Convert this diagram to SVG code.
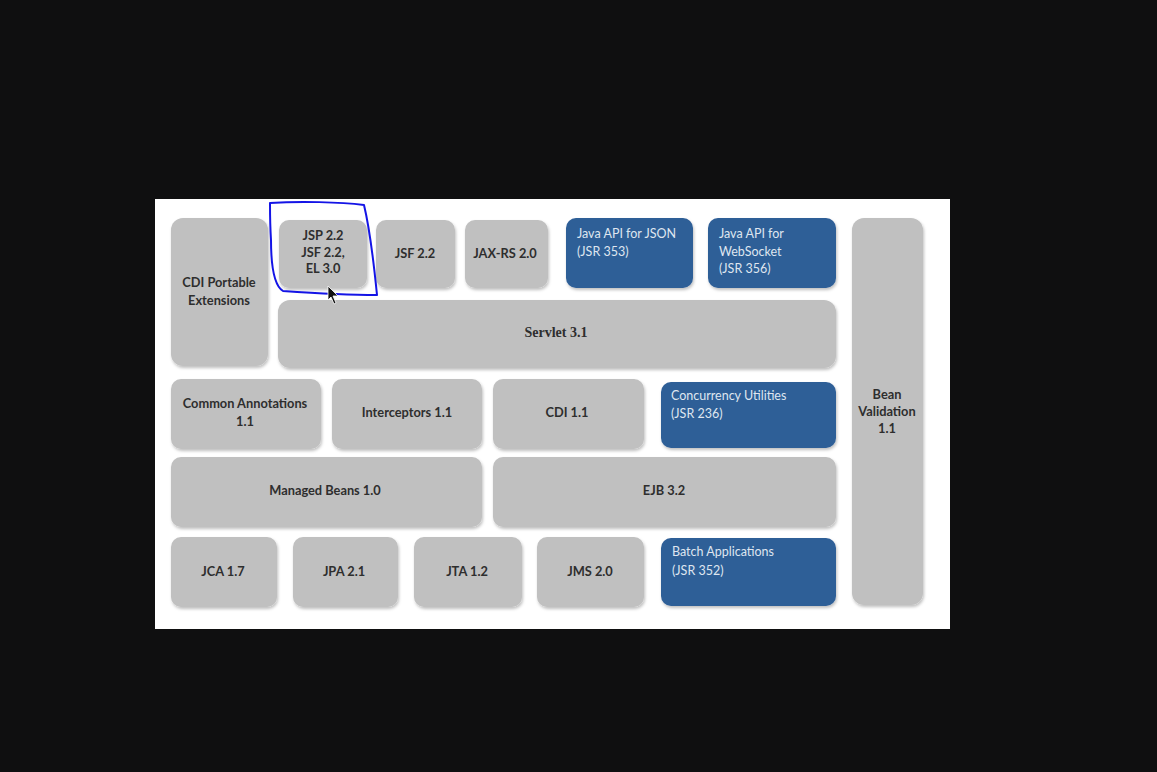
<svg xmlns="http://www.w3.org/2000/svg" width="1157" height="772" viewBox="0 0 1157 772">
<defs>
<filter id="sh" x="-10%" y="-10%" width="125%" height="130%">
<feDropShadow dx="1" dy="2" stdDeviation="1.5" flood-color="#000" flood-opacity="0.25"/>
</filter>
<style>
.g{fill:#c0c0c0;filter:url(#sh)}
.b{fill:#2f5f97;filter:url(#sh)}
.t{font-family:Lato,"Liberation Sans",sans-serif;font-weight:bold;font-size:12.8px;fill:#2e2e2e;text-anchor:middle}
.s{font-family:"Liberation Serif",serif;font-weight:bold;font-size:14px;fill:#2e2e2e;text-anchor:middle}
.w{font-family:Lato,"Liberation Sans",sans-serif;font-size:12.5px;fill:#dfe6f0}
</style>
</defs>
<rect width="1157" height="772" fill="#0f0f10"/>
<rect x="155" y="199" width="795" height="430" fill="#ffffff"/>

<g id="cdi-portable"><rect class="g" x="171" y="218" width="97" height="148" rx="12"/><text class="t" x="219" y="287">CDI Portable</text><text class="t" x="219" y="305">Extensions</text></g>
<g id="jsp"><rect class="g" x="279" y="220" width="88" height="68" rx="10"/><text class="t" x="323" y="240">JSP 2.2</text><text class="t" x="323" y="257">JSF 2.2,</text><text class="t" x="323" y="273">EL 3.0</text></g>
<g id="jsf"><rect class="g" x="376" y="220" width="79" height="68" rx="10"/><text class="t" x="415" y="258">JSF 2.2</text></g>
<g id="jaxrs"><rect class="g" x="465" y="220" width="83" height="68" rx="10"/><text class="t" x="505" y="258">JAX-RS 2.0</text></g>
<g id="json"><rect class="b" x="566" y="218" width="127" height="70" rx="10"/><text class="w" x="577" y="238">Java API for JSON</text><text class="w" x="577" y="256">(JSR 353)</text></g>
<g id="websocket"><rect class="b" x="708" y="218" width="128" height="70" rx="10"/><text class="w" x="719" y="238">Java API for</text><text class="w" x="719" y="256">WebSocket</text><text class="w" x="719" y="273">(JSR 356)</text></g>
<g id="servlet"><rect class="g" x="278" y="300" width="558" height="68" rx="12"/><text class="s" x="556" y="337">Servlet 3.1</text></g>
<g id="bean-validation"><rect class="g" x="852" y="218" width="71" height="387" rx="12"/><text class="t" x="887" y="399">Bean</text><text class="t" x="887" y="416">Validation</text><text class="t" x="887" y="433">1.1</text></g>

<g id="common-annotations"><rect class="g" x="171" y="379" width="150" height="70" rx="10"/><text class="t" x="245" y="408">Common Annotations</text><text class="t" x="245" y="426">1.1</text></g>
<g id="interceptors"><rect class="g" x="332" y="379" width="150" height="70" rx="10"/><text class="t" x="407" y="417">Interceptors 1.1</text></g>
<g id="cdi"><rect class="g" x="493" y="379" width="151" height="70" rx="10"/><text class="t" x="567" y="417">CDI 1.1</text></g>
<g id="concurrency"><rect class="b" x="661" y="382" width="175" height="66" rx="10"/><text class="w" x="671" y="400">Concurrency Utilities</text><text class="w" x="671" y="418">(JSR 236)</text></g>

<g id="managed-beans"><rect class="g" x="171" y="457" width="311" height="70" rx="10"/><text class="t" x="325" y="495">Managed Beans 1.0</text></g>
<g id="ejb"><rect class="g" x="493" y="457" width="343" height="70" rx="10"/><text class="t" x="664" y="495">EJB 3.2</text></g>

<g id="jca"><rect class="g" x="171" y="537" width="106" height="70" rx="10"/><text class="t" x="223" y="576">JCA 1.7</text></g>
<g id="jpa"><rect class="g" x="293" y="537" width="105" height="70" rx="10"/><text class="t" x="344" y="576">JPA 2.1</text></g>
<g id="jta"><rect class="g" x="414" y="537" width="108" height="70" rx="10"/><text class="t" x="467" y="576">JTA 1.2</text></g>
<g id="jms"><rect class="g" x="537" y="537" width="107" height="70" rx="10"/><text class="t" x="590" y="576">JMS 2.0</text></g>
<g id="batch"><rect class="b" x="661" y="538" width="175" height="68" rx="10"/><text class="w" x="672" y="556">Batch Applications</text><text class="w" x="672" y="575">(JSR 352)</text></g>

<g id="connectors"/>

<g id="annotation">
<path d="M270,203 C300,201 340,202 364,205 C370,230 374,265 377,295 C345,295 312,293 283,291 C273,285 271,262 271,240 C270,225 270,212 270,203 Z" fill="none" stroke="#1414e6" stroke-width="2" stroke-linejoin="round"/>
<path d="M328,286 L328,300 L331,297 L334,304 L336,303 L333,296 L338,296 Z" fill="#111" stroke="#fff" stroke-width="0.8"/>
</g>
</svg>
